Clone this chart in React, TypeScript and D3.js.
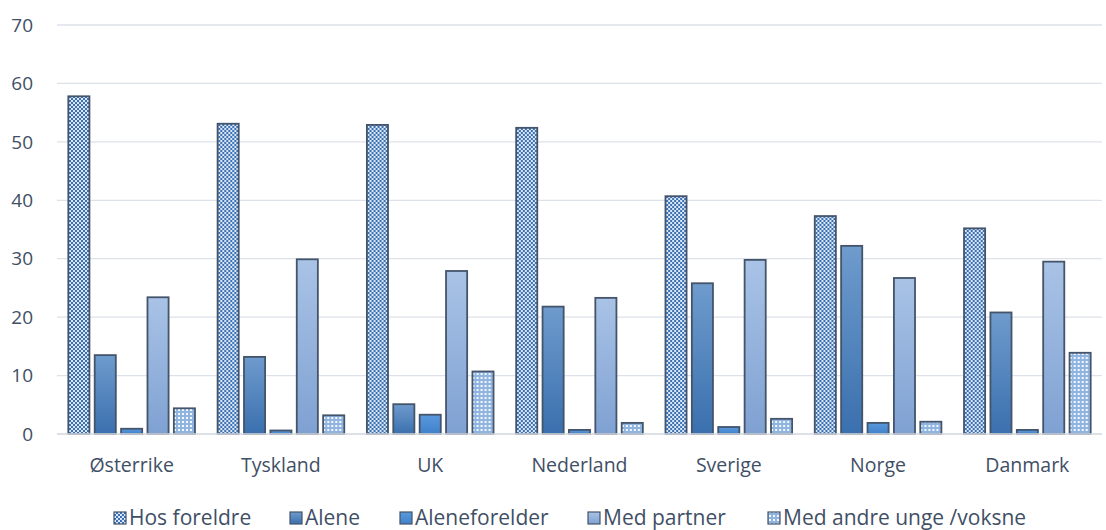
import React from "react";
import * as d3 from "d3";

const countries = ["Østerrike", "Tyskland", "UK", "Nederland", "Sverige", "Norge", "Danmark"];
const seriesNames = ["Hos foreldre", "Alene", "Aleneforelder", "Med partner", "Med andre unge /voksne"];
const hosForeldre = [57.8, 53.1, 52.9, 52.4, 40.7, 37.3, 35.2];
const alene = [13.5, 13.2, 5.1, 21.8, 25.8, 32.2, 20.8];
const aleneforelder = [0.9, 0.6, 3.3, 0.7, 1.2, 1.9, 0.7];
const medPartner = [23.4, 29.9, 27.9, 23.3, 29.8, 26.7, 29.5];
const medAndre = [4.4, 3.2, 10.7, 1.9, 2.6, 2.1, 13.9];
const yTicks = [0, 10, 20, 30, 40, 50, 60, 70];

const seriesValues = [hosForeldre, alene, aleneforelder, medPartner, medAndre];
const fills = ["url(#pChecker)", "url(#gAlene)", "url(#gAleneF)", "url(#gPartner)", "url(#pDots)"];
const legendX = [114, 290, 400, 588, 768];

const W = 1106;
const H = 530;
const margin = { left: 57, right: 4, top: 25, bottom: 96 };
const FONT = "'Open Sans', 'Liberation Sans', sans-serif";
const TEXT = "#3f4f66";
const STROKE = "#44546a";

export default function App() {
  const x = d3
    .scaleBand<string>()
    .domain(countries)
    .range([margin.left, W - margin.right])
    .paddingInner(0)
    .paddingOuter(0);
  const inner = d3
    .scaleBand<number>()
    .domain(d3.range(seriesNames.length))
    .range([10, x.bandwidth() - 10])
    .paddingInner(0.2)
    .paddingOuter(0.05);
  const y = d3.scaleLinear().domain([0, 70]).range([H - margin.bottom - 0, margin.top]);
  const baseY = y(0);

  return (
    <svg width={W} height={H} style={{ position: "absolute", left: 0, top: 0, background: "#fff" }}>
      <defs>
        <pattern id="pChecker" width="4" height="4" patternUnits="userSpaceOnUse">
          <rect width="4" height="4" fill="#dbe7f5" />
          <rect width="2" height="2" fill="#3b70b3" />
          <rect x="2" y="2" width="2" height="2" fill="#3b70b3" />
        </pattern>
        <pattern id="pDots" width="4" height="4" patternUnits="userSpaceOnUse">
          <rect width="4" height="4" fill="#8fb4e0" />
          <rect x="1" y="1" width="2" height="2" fill="#f4f8fd" />
        </pattern>
        <linearGradient id="gAlene" x1="0" y1="0" x2="0" y2="1">
          <stop offset="0" stopColor="#6f9bcd" />
          <stop offset="1" stopColor="#3a70ae" />
        </linearGradient>
        <linearGradient id="gAleneF" x1="0" y1="0" x2="0" y2="1">
          <stop offset="0" stopColor="#5a98dc" />
          <stop offset="1" stopColor="#3f82cb" />
        </linearGradient>
        <linearGradient id="gPartner" x1="0" y1="0" x2="0" y2="1">
          <stop offset="0" stopColor="#a9c3e6" />
          <stop offset="1" stopColor="#7fa1d2" />
        </linearGradient>
      </defs>

      {yTicks.map((t) => (
        <g key={t}>
          <line x1={margin.left} x2={W - margin.right} y1={y(t)} y2={y(t)} stroke="#dde2ea" strokeWidth={1.3} />
          <text x={33} y={y(t)} dy="0.35em" textAnchor="end" fontFamily={FONT} fontSize={19} fill={TEXT}>
            {t}
          </text>
        </g>
      ))}

      {countries.map((c, ci) => (
        <g key={c} transform={`translate(${x(c)},0)`}>
          {seriesValues.map((vals, si) => {
            const v = vals[ci];
            const bx = inner(si)!;
            return (
              <rect
                key={si}
                x={bx}
                y={y(v)}
                width={inner.bandwidth()}
                height={baseY - y(v)}
                fill={fills[si]}
                stroke={STROKE}
                strokeWidth={1.8}
              />
            );
          })}
          <text
            x={x.bandwidth() / 2}
            y={baseY + 38}
            textAnchor="middle"
            fontFamily={FONT}
            fontSize={19.5}
            fill={TEXT}
          >
            {c}
          </text>
        </g>
      ))}

      <line x1={margin.left} x2={W - margin.right} y1={baseY} y2={baseY} stroke="#d9dee6" strokeWidth={1.5} />

      {seriesNames.map((n, i) => (
        <g key={n} transform={`translate(${legendX[i]},${518})`}>
          <rect x={0} y={-6} width={12} height={12} fill={fills[i]} stroke={STROKE} strokeWidth={1.2} />
          <text x={15} y={0} dy="0.35em" fontFamily={FONT} fontSize={21} fill={TEXT}>
            {n}
          </text>
        </g>
      ))}
    </svg>
  );
}
